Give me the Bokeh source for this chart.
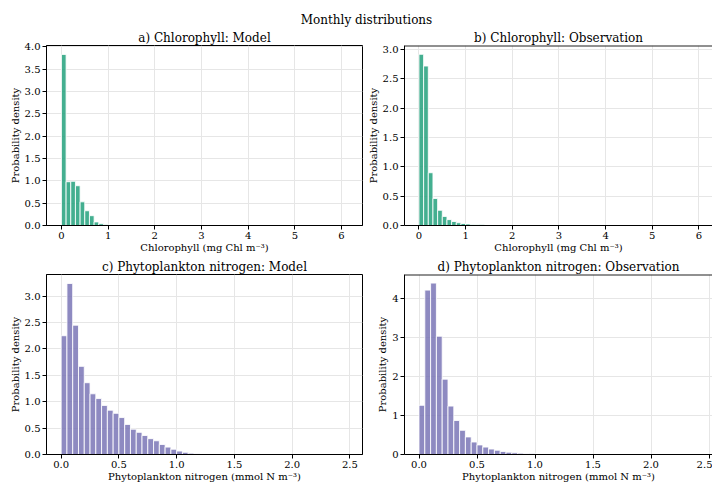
import numpy as np
from bokeh.plotting import figure
from bokeh.models import Range1d, FixedTicker, Label, PrintfTickFormatter, ColumnDataSource, Span
from bokeh.layouts import column, row
from bokeh.embed import file_html
from bokeh.resources import INLINE

FONT = "DejaVu Serif"

suptitle = "Monthly distributions"
titles = ["a) Chlorophyll: Model", "b) Chlorophyll: Observation",
          "c) Phytoplankton nitrogen: Model", "d) Phytoplankton nitrogen: Observation"]
chl_label = "Chlorophyll (mg Chl m\u207b\u00b3)"
phy_label = "Phytoplankton nitrogen (mmol N m\u207b\u00b3)"
ylabel = "Probability density"

# histogram bin widths
chl_bin = 0.1
phy_bin = 0.05

# densities per bin (bins start at 0)
chl_model = [3.83, 0.98, 0.99, 0.89, 0.53, 0.33, 0.22, 0.08, 0.04, 0.02, 0.01, 0.005]
chl_obs = [2.92, 2.72, 0.90, 0.46, 0.26, 0.155, 0.10, 0.068, 0.047, 0.034, 0.026,
           0.018, 0.014, 0.011, 0.008, 0.006, 0.004, 0.003]
phy_model = [2.25, 3.24, 2.45, 1.67, 1.36, 1.15, 1.06, 0.93, 0.84, 0.78, 0.70, 0.57,
             0.48, 0.42, 0.36, 0.30, 0.26, 0.19, 0.14, 0.10, 0.065, 0.042, 0.025,
             0.016, 0.010, 0.006, 0.004]
phy_obs = [1.26, 4.21, 4.39, 3.03, 1.93, 1.24, 0.87, 0.62, 0.45, 0.32, 0.245, 0.19,
           0.14, 0.11, 0.078, 0.06, 0.044, 0.034, 0.026, 0.018, 0.012, 0.009, 0.006, 0.004]

chl_xticks = [0, 1, 2, 3, 4, 5, 6]
phy_xticks = [0.0, 0.5, 1.0, 1.5, 2.0, 2.5]
a_yticks = [0.0, 0.5, 1.0, 1.5, 2.0, 2.5, 3.0, 3.5, 4.0]
b_yticks = [0.0, 0.5, 1.0, 1.5, 2.0, 2.5, 3.0]
c_yticks = [0.0, 0.5, 1.0, 1.5, 2.0, 2.5, 3.0]
d_yticks = [0, 1, 2, 3, 4]

GREEN = "#1b9e77"
PURPLE = "#7570b3"


def style_axis(ax, label):
    ax.axis_line_color = "black"
    ax.axis_line_width = 1
    ax.major_tick_line_color = "black"
    ax.major_tick_out = 4
    ax.major_tick_in = 0
    ax.minor_tick_out = 0
    ax.minor_tick_in = 0
    ax.major_label_text_font = FONT
    ax.major_label_text_font_size = "10px"
    ax.major_label_text_color = "black"
    ax.major_label_standoff = 2
    ax.axis_label = label
    ax.axis_label_text_font = FONT
    ax.axis_label_text_font_size = "10px"
    ax.axis_label_text_font_style = "normal"
    ax.axis_label_text_color = "black"


def panel(width, height, mbl, mbr, mbt, mbb, xr, yr, xticks, yticks, xfmt, yfmt,
          values, binw, color, title, xlabel, cut_right, title_offset):
    p = figure(width=width, height=height, output_backend="svg", toolbar_location=None,
               x_range=Range1d(*xr), y_range=Range1d(*yr),
               min_border_left=mbl, min_border_right=mbr,
               min_border_top=mbt, min_border_bottom=mbb)
    p.title.text = title
    p.title.text_font = FONT
    p.title.text_font_size = "12px"
    p.title.text_font_style = "normal"
    p.title.text_color = "black"
    p.title.align = "center"
    p.title.standoff = 2
    p.title.offset = title_offset
    lefts = np.arange(len(values)) * binw
    src = ColumnDataSource(dict(x=lefts + binw / 2, top=values))
    p.vbar(x="x", top="top", bottom=0, width=binw, source=src,
           fill_color=color, fill_alpha=0.82, line_color="white", line_width=1, line_alpha=0.85)
    p.xaxis.ticker = FixedTicker(ticks=xticks)
    p.yaxis.ticker = FixedTicker(ticks=yticks)
    p.xaxis.formatter = PrintfTickFormatter(format=xfmt)
    p.yaxis.formatter = PrintfTickFormatter(format=yfmt)
    style_axis(p.xaxis[0], xlabel)
    style_axis(p.yaxis[0], ylabel)
    p.xaxis[0].axis_label_standoff = 0
    p.yaxis[0].axis_label_standoff = 1
    p.xgrid.grid_line_color = "#e6e6e6"
    p.ygrid.grid_line_color = "#e6e6e6"
    p.background_fill_color = "white"
    p.border_fill_color = "white"
    if cut_right:
        p.outline_line_color = None
        p.add_layout(Span(location=yr[1], dimension="width", line_color="#222222", line_width=2))
    else:
        p.outline_line_color = "black"
        p.outline_line_alpha = 1
    return p


header = figure(width=712, height=27, output_backend="svg", toolbar_location=None,
                x_range=Range1d(0, 712), y_range=Range1d(0, 27), min_border=0,
                x_axis_location=None, y_axis_location=None)
header.outline_line_color = None
header.xgrid.visible = False
header.ygrid.visible = False
header.add_layout(Label(x=366, y=8, text=suptitle, text_align="center", text_baseline="middle",
                        text_font=FONT, text_font_size="12px", text_color="black"))

pa = panel(364, 229, 46, 2, 18, 31, (-0.32, 6.45), (0, 4.03), chl_xticks, a_yticks, "%d", "%.1f",
           chl_model, chl_bin, GREEN, titles[0], chl_label, False, 0)
pb = panel(348, 229, 40, 0, 18, 31, (-0.31, 6.29), (0, 3.07), chl_xticks, b_yticks, "%d", "%.1f",
           chl_obs, chl_bin, GREEN, titles[1], chl_label, True, 4)
pc = panel(364, 229, 46, 2, 18, 31, (-0.127, 2.609), (0, 3.41), phy_xticks, c_yticks, "%.1f", "%.1f",
           phy_model, phy_bin, PURPLE, titles[2], phy_label, False, 0)
pd_ = panel(348, 229, 40, 0, 18, 31, (-0.125, 2.53), (0, 4.61), phy_xticks, d_yticks, "%.1f", "%d",
            phy_obs, phy_bin, PURPLE, titles[3], phy_label, True, 4)

layout = column(header, row(pa, pb), row(pc, pd_))
open("out.html", "w").write(file_html(layout, INLINE))
